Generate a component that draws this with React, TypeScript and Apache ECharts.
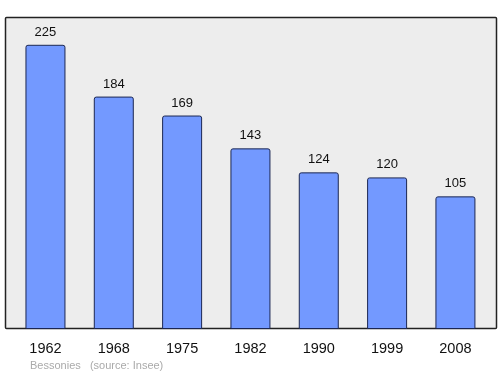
import React, { useEffect, useRef } from "react";
import * as echarts from "echarts";

const years = ["1962", "1968", "1975", "1982", "1990", "1999", "2008"];
const population = [225, 184, 169, 143, 124, 120, 105];
const footerPlace = "Bessonies";
const footerSource = "(source: Insee)";

export default function App() {
  const ref = useRef<HTMLDivElement>(null);
  useEffect(() => {
    if (!ref.current) return;
    const chart = echarts.init(ref.current, null, { renderer: "svg" });
    chart.setOption({
      animation: false,
      textStyle: { fontFamily: "Liberation Sans, Arial, sans-serif" },
      graphic: [
        {
          type: "rect",
          z: -10,
          silent: true,
          shape: { x: 5.5, y: 17.5, width: 491, height: 311, r: 1 },
          style: { fill: "#ededed", stroke: "#222", lineWidth: 1.5 },
        },
        {
          type: "text",
          left: 30,
          top: 359,
          style: {
            text: footerPlace + "   " + footerSource,
            fill: "#aaaaaa",
            font: "11px Liberation Sans, Arial, sans-serif",
          },
        },
      ],
      grid: { left: 11.3, width: 478.3, top: 17, bottom: 45 },
      xAxis: {
        type: "category",
        data: years,
        axisLine: { show: false },
        axisTick: { show: false },
        axisLabel: { color: "#111", fontSize: 14.5, margin: 11 },
      },
      yAxis: {
        type: "value",
        min: 0,
        max: 247,
        show: false,
        splitLine: { show: false },
      },
      series: [
        {
          type: "bar",
          data: population,
          barWidth: 40,
          itemStyle: {
            color: "#7399ff",
            borderColor: "#1c2752",
            borderWidth: 1,
            borderRadius: [2, 2, 0, 0],
          },
          label: {
            show: true,
            position: "top",
            distance: 7,
            color: "#111",
            fontSize: 13,
          },
        },
      ],
    });
    return () => chart.dispose();
  }, []);
  return (
    <div
      ref={ref}
      style={{ position: "fixed", left: 0, top: 0, width: 500, height: 374 }}
    />
  );
}
